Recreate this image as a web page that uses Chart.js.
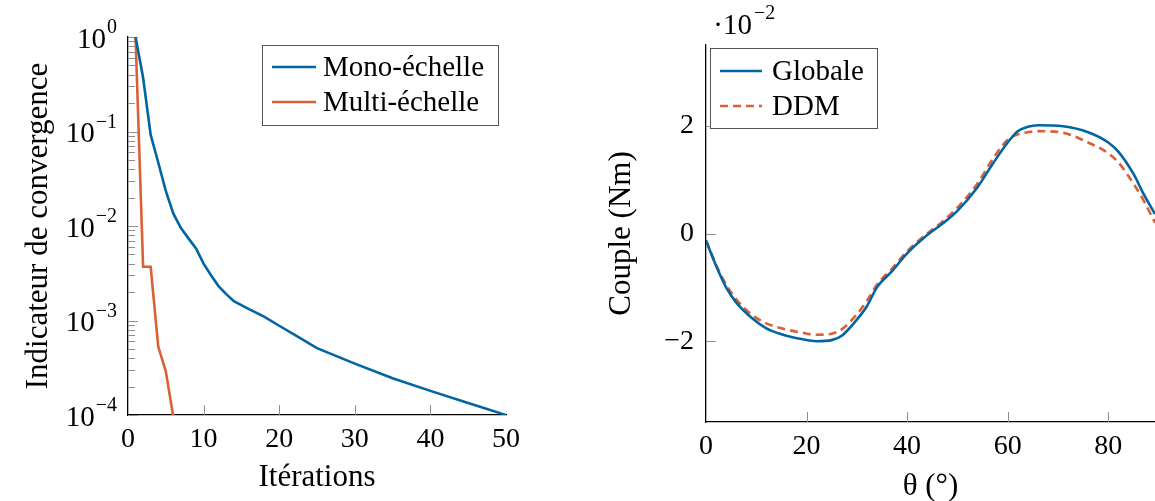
<!DOCTYPE html>
<html>
<head>
<meta charset="utf-8">
<script src="https://cdn.jsdelivr.net/npm/chart.js@4.4.1/dist/chart.umd.min.js"></script>
<style>
  body { margin: 0; background: #fff; }
  .box { position: absolute; top: 0; height: 501px; }
</style>
</head>
<body>
<div class="box" style="left:0;width:560px"><canvas id="conv"></canvas></div>
<div class="box" style="left:560px;width:595px"><canvas id="couple"></canvas></div>
<script>
// --- left: convergence ---
const monoIter = [1, 2, 3, 4, 5, 6, 7, 8, 9, 10, 11, 12, 13, 14, 16, 18, 20, 22, 25, 30, 35, 40, 45, 50];
const mono = [1, 0.37, 0.092, 0.047, 0.0235, 0.0135, 0.0095, 0.0074, 0.0058, 0.0040, 0.0030, 0.0023, 0.0019, 0.0016,
    0.00132, 0.0011, 0.00088, 0.00071, 0.00051, 0.00035, 0.000245, 0.000180, 0.000134, 0.0001];
const multiIter = [1, 2, 3, 4, 5, 6];
const multi = [1, 0.0037, 0.0037, 0.00053, 0.00029, 0.000095];
const decades = [1e-4, 1e-3, 1e-2, 1e-1, 1];
const decadeExp = ['\u22124', '\u22123', '\u22122', '\u22121', '0'];
const iterTicks = [0, 10, 20, 30, 40, 50];

// --- right: couple ---
const theta = [0, 2, 4, 6, 9, 12, 15, 19, 22, 25, 27, 30, 32, 34, 37, 40, 44, 47, 50, 54, 57, 60, 62, 64, 66, 71, 76, 80, 82, 85, 87, 89.3];
const globale = [-0.13, -0.60, -1.0, -1.28, -1.56, -1.76, -1.87, -1.96, -2.0, -1.98, -1.90, -1.60, -1.35, -1.0, -0.70, -0.37,
    -0.03, 0.18, 0.42, 0.86, 1.29, 1.69, 1.90, 1.98, 2.01, 1.99, 1.88, 1.69, 1.52, 1.11, 0.74, 0.36];
const ddm = [-0.13, -0.58, -0.95, -1.22, -1.50, -1.67, -1.76, -1.84, -1.88, -1.86, -1.78, -1.50, -1.25, -0.95, -0.65, -0.33,
    0.0, 0.22, 0.48, 0.93, 1.38, 1.74, 1.84, 1.88, 1.90, 1.87, 1.69, 1.49, 1.32, 0.93, 0.62, 0.20];
const thetaTicks = [0, 20, 40, 60, 80];
const coupleTicks = [-2, 0, 2];

const serif = "'Liberation Serif', 'DejaVu Serif', serif";
const blue = 'rgb(0, 101, 162)';
const orange = 'rgb(217, 96, 55)';

function pts(xs, ys) {
    return xs.map((v, i) => ({ x: v, y: ys[i] }));
}

// ticks pointing inward, like pgfplots
const innerTicks = {
    id: 'innerTicks',
    beforeDatasetsDraw(chart, args, o) {
        const ctx = chart.ctx, a = chart.chartArea;
        const sx = chart.scales.x, sy = chart.scales.y;
        ctx.save();
        ctx.strokeStyle = '#8f8f8f';
        ctx.lineWidth = 1;
        for (const v of o.x) {
            const p = Math.round(sx.getPixelForValue(v)) + 0.5;
            ctx.beginPath(); ctx.moveTo(p, a.bottom); ctx.lineTo(p, a.bottom - o.len); ctx.stroke();
        }
        for (const v of o.y) {
            const p = Math.round(sy.getPixelForValue(v)) + 0.5;
            ctx.beginPath(); ctx.moveTo(a.left, p); ctx.lineTo(a.left + o.len, p); ctx.stroke();
        }
        for (const v of (o.minor || [])) {
            const p = Math.round(sy.getPixelForValue(v)) + 0.5;
            ctx.beginPath(); ctx.moveTo(a.left, p); ctx.lineTo(a.left + o.minorLen, p); ctx.stroke();
        }
        ctx.restore();
    }
};

const boxLegend = {
    id: 'boxLegend',
    afterDraw(chart, args, o) {
        const ctx = chart.ctx;
        ctx.save();
        ctx.fillStyle = '#fff';
        ctx.fillRect(o.left, o.top, o.width, o.height);
        ctx.strokeStyle = '#555';
        ctx.lineWidth = 1;
        ctx.strokeRect(o.left + 0.5, o.top + 0.5, o.width, o.height);
        ctx.font = '29px ' + serif;
        ctx.textBaseline = 'middle';
        ctx.fillStyle = '#000';
        chart.data.datasets.forEach((ds, i) => {
            const y = o.top + o.first + i * o.step;
            ctx.strokeStyle = ds.borderColor;
            ctx.lineWidth = ds.borderWidth;
            ctx.setLineDash(ds.borderDash || []);
            ctx.beginPath(); ctx.moveTo(o.left + o.lineX, y); ctx.lineTo(o.left + o.lineX + o.lineW, y); ctx.stroke();
            ctx.setLineDash([]);
            ctx.fillText(ds.label, o.left + o.textX, y + 1);
        });
        ctx.restore();
    }
};

// 10^k labels with a raised exponent
function powerLabel(ctx, right, y, base, exp) {
    ctx.font = '20px ' + serif;
    const we = ctx.measureText(exp).width;
    ctx.textAlign = 'left';
    ctx.textBaseline = 'middle';
    ctx.fillText(exp, right - we, y - 9);
    ctx.font = '29px ' + serif;
    ctx.textAlign = 'right';
    ctx.fillText(base, right - we - 1, y + 3);
}

const logLabels = {
    id: 'logLabels',
    afterDraw(chart) {
        const ctx = chart.ctx, sy = chart.scales.y;
        ctx.save();
        ctx.fillStyle = '#000';
        decades.forEach((v, i) => powerLabel(ctx, 117, sy.getPixelForValue(v), '10', decadeExp[i]));
        ctx.restore();
    }
};

const scaleNote = {
    id: 'scaleNote',
    afterDraw(chart) {
        const ctx = chart.ctx;
        ctx.save();
        ctx.fillStyle = '#000';
        ctx.font = '20px ' + serif;
        ctx.textBaseline = 'middle';
        ctx.textAlign = 'left';
        ctx.fillText('\u22122', 194, 14);
        ctx.font = '29px ' + serif;
        ctx.textAlign = 'right';
        ctx.fillText('\u00b710', 192, 26);
        ctx.restore();
    }
};

function noPad(s) {
    s.paddingLeft = 0; s.paddingRight = 0; s.paddingTop = 0; s.paddingBottom = 0;
}

const minor = [];
for (let k = -4; k < 0; k++)
    for (let m = 2; m <= 9; m++) minor.push(m * Math.pow(10, k));

new Chart(document.getElementById('conv'), {
    type: 'line',
    data: {
        datasets: [
            { label: 'Mono-échelle', data: pts(monoIter, mono), borderColor: blue, borderWidth: 2.6, pointRadius: 0, tension: 0 },
            { label: 'Multi-échelle', data: pts(multiIter, multi), borderColor: orange, borderWidth: 2.6, pointRadius: 0, tension: 0 }
        ]
    },
    options: {
        animation: false,
        responsive: true,
        maintainAspectRatio: false,
        layout: { padding: { top: 37, right: 54, left: 0, bottom: 0 } },
        plugins: {
            legend: { display: false },
            tooltip: { enabled: false },
            innerTicks: { x: iterTicks.slice(1, -1), y: decades, minor: minor, len: 10, minorLen: 7 },
            boxLegend: { left: 262, top: 45, width: 236, height: 80, first: 22, step: 35, lineX: 10, lineW: 44, textX: 61 }
        },
        scales: {
            x: {
                type: 'linear', min: 0, max: 50,
                afterBuildTicks(s) { s.ticks = iterTicks.map(v => ({ value: v })); },
                afterFit(s) { s.height = 86; noPad(s); },
                grid: { display: false, drawTicks: false },
                border: { color: '#000', width: 1.3 },
                ticks: { padding: 8, color: '#000', font: { family: serif, size: 28 }, maxRotation: 0 },
                title: { display: true, text: 'Itérations', color: '#000', font: { family: serif, size: 31 }, padding: { top: 0, bottom: 5 } }
            },
            y: {
                type: 'logarithmic', min: 1e-4, max: 1,
                afterBuildTicks(s) { s.ticks = decades.map(v => ({ value: v })); },
                afterFit(s) { s.width = 128; noPad(s); },
                grid: { display: false, drawTicks: false },
                border: { color: '#000', width: 1.3 },
                ticks: { callback: () => '' },
                title: { display: true, text: 'Indicateur de convergence', color: '#000', font: { family: serif, size: 31 }, padding: { top: 20, bottom: 0 } }
            }
        }
    },
    plugins: [innerTicks, boxLegend, logLabels]
});

new Chart(document.getElementById('couple'), {
    type: 'line',
    data: {
        datasets: [
            { label: 'Globale', data: pts(theta, globale), borderColor: blue, borderWidth: 2.6, pointRadius: 0, cubicInterpolationMode: 'monotone' },
            { label: 'DDM', data: pts(theta, ddm), borderColor: orange, borderWidth: 2.6, borderDash: [8, 5], pointRadius: 0, cubicInterpolationMode: 'monotone' }
        ]
    },
    options: {
        animation: false,
        responsive: true,
        maintainAspectRatio: false,
        layout: { padding: { top: 45, right: 0, left: 0, bottom: 0 } },
        plugins: {
            legend: { display: false },
            tooltip: { enabled: false },
            innerTicks: { x: thetaTicks.slice(1), y: coupleTicks, len: 10 },
            boxLegend: { left: 150, top: 48, width: 167, height: 80, first: 23, step: 35, lineX: 10, lineW: 42, textX: 62 },
            scaleNote: {}
        },
        scales: {
            x: {
                type: 'linear', min: 0, max: 89.3,
                afterBuildTicks(s) { s.ticks = thetaTicks.map(v => ({ value: v })); },
                afterFit(s) { s.height = 79; noPad(s); },
                grid: { display: false, drawTicks: false },
                border: { color: '#000', width: 1.3 },
                ticks: { padding: 8, color: '#000', font: { family: serif, size: 28 }, maxRotation: 0 },
                title: { display: true, text: 'θ (°)', color: '#000', font: { family: serif, size: 31, lineHeight: 0.9 }, padding: { top: 0, bottom: 0 } }
            },
            y: {
                type: 'linear', min: -3.5, max: 3.5,
                afterBuildTicks(s) { s.ticks = coupleTicks.map(v => ({ value: v })); },
                afterFit(s) { s.width = 146; noPad(s); },
                grid: { display: false, drawTicks: false },
                border: { color: '#000', width: 1.3 },
                ticks: { padding: 12, color: '#000', font: { family: serif, size: 28 }, callback: v => v < 0 ? '\u2212' + Math.abs(v) : String(v) },
                title: { display: true, text: 'Couple (Nm)', color: '#000', font: { family: serif, size: 31 }, padding: { top: 43, bottom: 0 } }
            }
        }
    },
    plugins: [innerTicks, boxLegend, scaleNote]
});
</script>
</body>
</html>
